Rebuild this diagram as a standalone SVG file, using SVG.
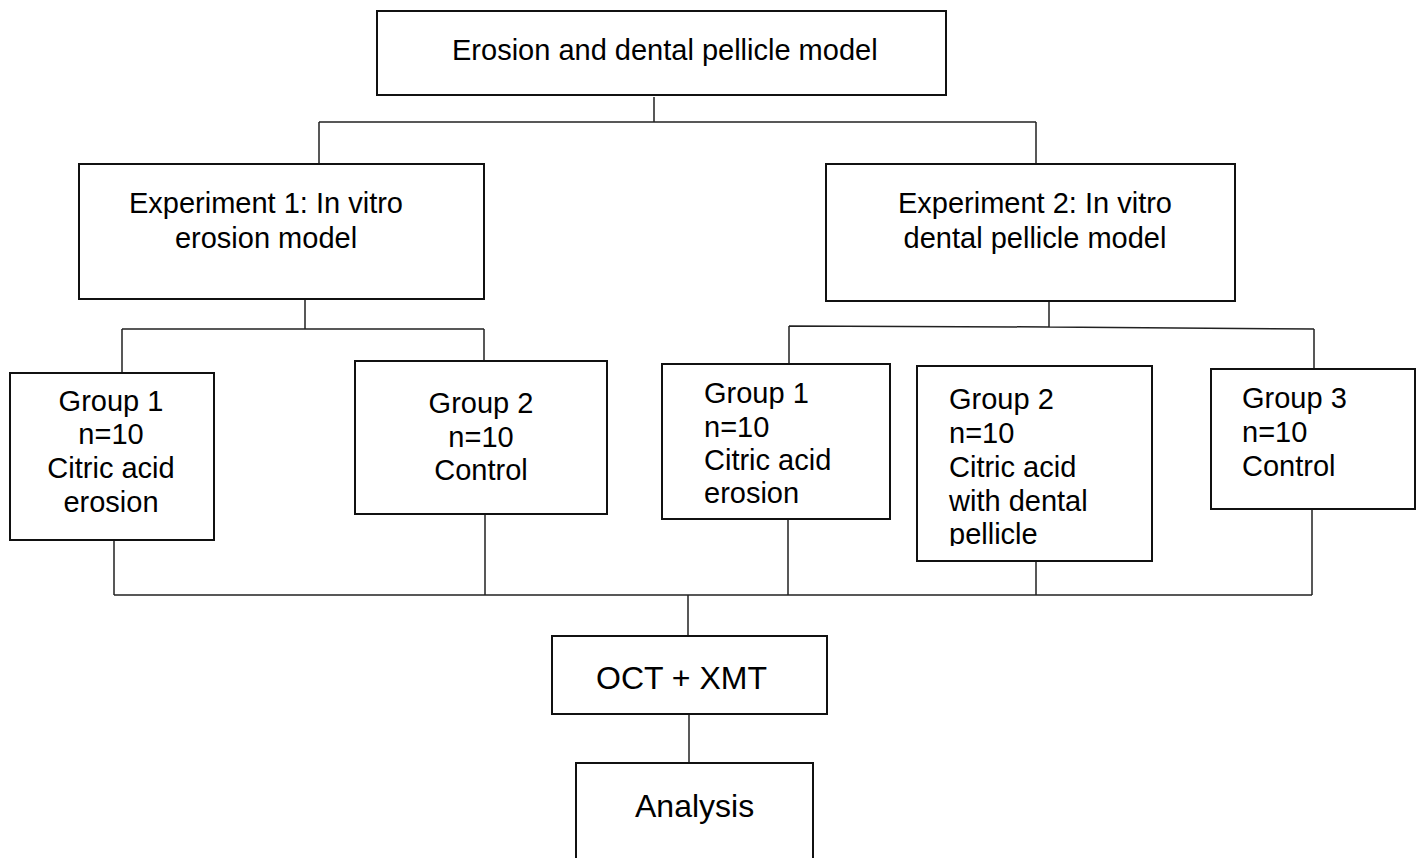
<svg xmlns="http://www.w3.org/2000/svg" width="1419" height="858" viewBox="0 0 1419 858">
<style>
.box{fill:#fff;stroke:#111;stroke-width:2}
.ln{fill:none;stroke:#222;stroke-width:1.5}
text{font-family:"Liberation Sans",Arial,sans-serif;font-size:29px;fill:#000}
.c{text-anchor:middle}
.big{font-size:32px}
</style>
<defs>
<clipPath id="clipG2"><rect x="917" y="366" width="235" height="180"/></clipPath>
</defs>
<rect width="1419" height="858" fill="#fff"/>
<g id="connectors">
<path class="ln" d="M654 97V122M319 122H1036M319 122V164M1036 122V164"/>
<path class="ln" d="M305 299V329M122 329H484M122 329V373M484 329V361"/>
<path class="ln" d="M1049 301V327M789 326L1049 327L1314 329M789 326V364M1314 329V369"/>
<path class="ln" d="M114 540V595M485 514V595M788 519V595M1036 561V595M1312 509V595M114 595H1312M688 595V636"/>
<path class="ln" d="M689 714V763"/>
</g>
<g id="top">
<rect class="box" x="377" y="11" width="569" height="84"/>
<text x="452" y="60">Erosion and dental pellicle model</text>
</g>
<g id="exp1">
<rect class="box" x="79" y="164" width="405" height="135"/>
<text class="c" x="266" y="213">Experiment 1: In vitro</text>
<text class="c" x="266" y="248">erosion model</text>
</g>
<g id="exp2">
<rect class="box" x="826" y="164" width="409" height="137"/>
<text class="c" x="1035" y="213">Experiment 2: In vitro</text>
<text class="c" x="1035" y="248">dental pellicle model</text>
</g>
<g id="e1g1">
<rect class="box" x="10" y="373" width="204" height="167"/>
<text class="c" x="111" y="411">Group 1</text>
<text class="c" x="111" y="444">n=10</text>
<text class="c" x="111" y="478">Citric acid</text>
<text class="c" x="111" y="512">erosion</text>
</g>
<g id="e1g2">
<rect class="box" x="355" y="361" width="252" height="153"/>
<text class="c" x="481" y="413">Group 2</text>
<text class="c" x="481" y="447">n=10</text>
<text class="c" x="481" y="480">Control</text>
</g>
<g id="e2g1">
<rect class="box" x="662" y="364" width="228" height="155"/>
<text x="704" y="403">Group 1</text>
<text x="704" y="437">n=10</text>
<text x="704" y="470">Citric acid</text>
<text x="704" y="503">erosion</text>
</g>
<g id="e2g2">
<rect class="box" x="917" y="366" width="235" height="195"/>
<g clip-path="url(#clipG2)">
<text x="949" y="409">Group 2</text>
<text x="949" y="443">n=10</text>
<text x="949" y="477">Citric acid</text>
<text x="949" y="511">with dental</text>
<text x="949" y="544">pellicle</text>
</g>
</g>
<g id="e2g3">
<rect class="box" x="1211" y="369" width="204" height="140"/>
<text x="1242" y="408">Group 3</text>
<text x="1242" y="442">n=10</text>
<text x="1242" y="476">Control</text>
</g>
<g id="oct">
<rect class="box" x="552" y="636" width="275" height="78"/>
<text class="big" x="596" y="689">OCT + XMT</text>
</g>
<g id="analysis">
<rect class="box" x="576" y="763" width="237" height="120"/>
<text class="big" x="635" y="817">Analysis</text>
</g>
</svg>
